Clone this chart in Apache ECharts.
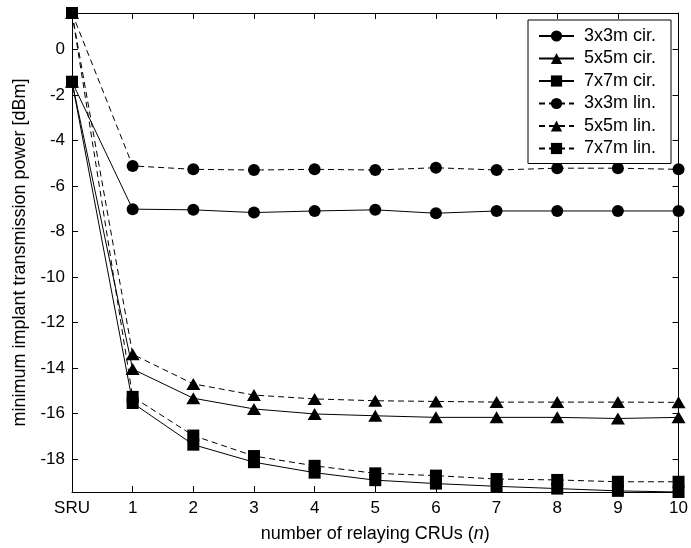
<!DOCTYPE html>
<html><head><meta charset="utf-8">
<script src="https://cdn.jsdelivr.net/npm/echarts@6/dist/echarts.min.js"></script>
<style>html,body{margin:0;padding:0;background:#fff}#c{width:691px;height:548px}</style>
</head><body><div id="c"></div>
<script>
var categories = ['SRU','1','2','3','4','5','6','7','8','9','10'];
var yTicks = [0,-2,-4,-6,-8,-10,-12,-14,-16,-18];
var c3cir = [-1.42,-7.02,-7.05,-7.17,-7.10,-7.05,-7.20,-7.10,-7.10,-7.10,-7.10];
var c5cir = [-1.42,-14.05,-15.33,-15.80,-16.02,-16.10,-16.17,-16.17,-16.17,-16.22,-16.17];
var c7cir = [-1.42,-15.54,-17.37,-18.14,-18.60,-18.93,-19.08,-19.20,-19.30,-19.40,-19.45];
var c3lin = [1.60,-5.12,-5.27,-5.30,-5.27,-5.30,-5.20,-5.30,-5.22,-5.22,-5.27];
var c5lin = [1.60,-13.40,-14.70,-15.19,-15.36,-15.44,-15.47,-15.50,-15.50,-15.50,-15.51];
var c7lin = [1.60,-15.27,-16.97,-17.87,-18.30,-18.63,-18.73,-18.88,-18.92,-19.00,-19.00];
var names = ['3x3m cir.','5x5m cir.','7x7m cir.','3x3m lin.','5x5m lin.','7x7m lin.'];
var yMin = -19.45, yMax = 1.6;

var FONT = 'Liberation Sans, Arial, Helvetica, sans-serif';
function mk(name, data, sym, size, dashed){
  return {
    name: name, type: 'line', data: data, symbol: sym, symbolSize: size,
    showAllSymbol: true, animation: false,
    lineStyle: {color: '#000', width: 1, type: dashed ? [6,4] : 'solid'},
    itemStyle: {color: '#000', borderWidth: 0}
  };
}
var chart = echarts.init(document.getElementById('c'), null, {renderer: 'canvas'});
var axisLine = {show: true, onZero: false, lineStyle: {color: '#000', width: 1}};
var tick = {show: true, inside: true, length: 6, lineStyle: {color: '#000', width: 1}};
chart.setOption({
  backgroundColor: '#fff',
  animation: false,
  grid: {left: 72, right: 8, top: 13, bottom: 55, containLabel: false},
  legend: {
    orient: 'vertical', left: 528, top: 20,
    padding: [7, 15, 6, 10], itemGap: 4.5,
    itemWidth: 35, itemHeight: 14,
    backgroundColor: '#fff', borderColor: '#000', borderWidth: 1, borderRadius: 0,
    textStyle: {fontFamily: FONT, fontSize: 18, color: '#000', padding: [0,0,0,5]},
    data: names
  },
  xAxis: [{
    type: 'category', data: categories, boundaryGap: false,
    axisLine: axisLine, axisTick: Object.assign({alignWithLabel: true}, tick),
    axisLabel: {fontFamily: FONT, fontSize: 17, color: '#000', margin: 8},
    splitLine: {show: false},
    name: 'number of relaying CRUs ({i|n})', nameLocation: 'middle', nameGap: 33,
    nameTextStyle: {fontFamily: FONT, fontSize: 18, color: '#000',
      rich: {i: {fontStyle: 'italic', fontFamily: FONT, fontSize: 18, color: '#000'}}}
  },{
    type: 'category', data: categories, boundaryGap: false, position: 'top',
    axisLine: axisLine, axisTick: tick, axisLabel: {show: false}, splitLine: {show: false}
  }],
  yAxis: [{
    type: 'value', min: yMin, max: yMax,
    axisLine: axisLine,
    axisTick: Object.assign({customValues: yTicks}, tick),
    axisLabel: {customValues: yTicks, fontFamily: FONT, fontSize: 17, color: '#000', margin: 7},
    splitLine: {show: false},
    name: 'minimum implant transmission power [dBm]', nameLocation: 'middle', nameGap: 40,
    nameTextStyle: {fontFamily: FONT, fontSize: 18, color: '#000'}
  },{
    type: 'value', min: yMin, max: yMax, position: 'right',
    axisLine: axisLine,
    axisTick: Object.assign({customValues: yTicks}, tick),
    axisLabel: {show: false}, splitLine: {show: false}
  }],
  series: [
    mk(names[0], c3cir, 'circle', 12, false),
    mk(names[1], c5cir, 'triangle', [14,12], false),
    mk(names[2], c7cir, 'rect', 12, false),
    mk(names[3], c3lin, 'circle', 12, true),
    mk(names[4], c5lin, 'triangle', [14,12], true),
    mk(names[5], c7lin, 'rect', 12, true)
  ]
});
</script></body></html>
